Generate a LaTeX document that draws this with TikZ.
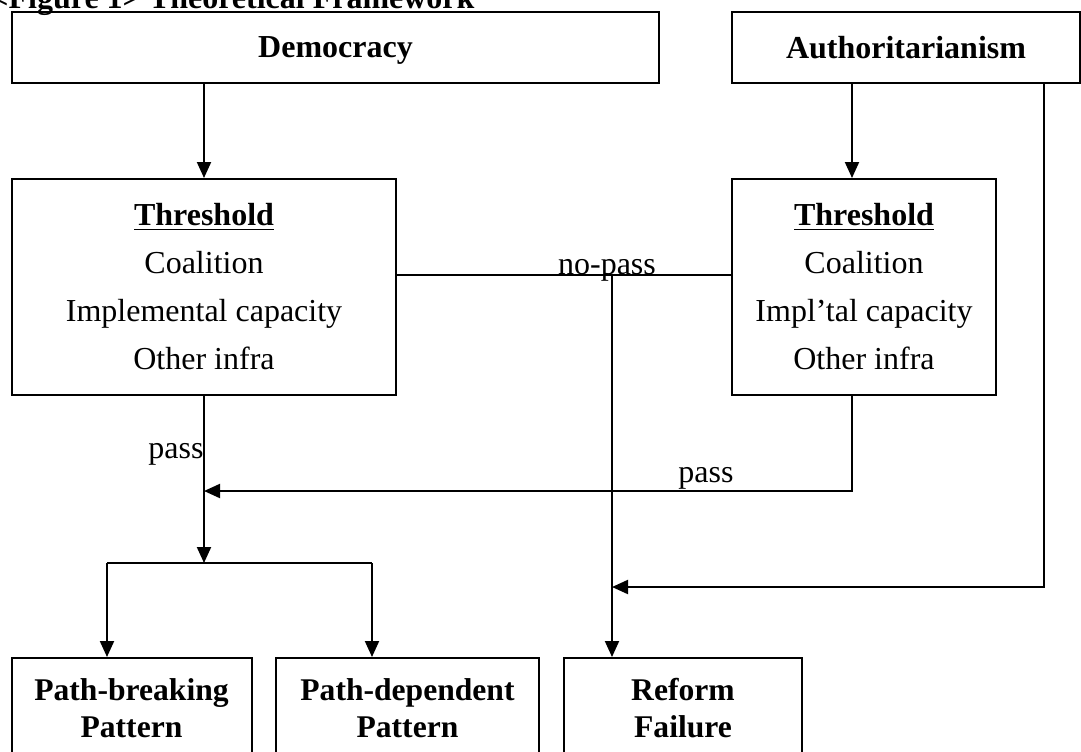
\documentclass[tikz,border=0pt]{standalone}
\usepackage{fontspec}
\setmainfont{Liberation Serif}
\usetikzlibrary{arrows.meta}
\begin{document}
\begin{tikzpicture}[x=0.5pt,y=-0.5pt,
  box/.style={draw, line width=1pt, inner sep=0pt, align=center},
  topbox/.style={box, font=\fontsize{16pt}{19pt}\selectfont\bfseries, text depth=0pt},
  thbox/.style={box, font=\fontsize{16pt}{24pt}\selectfont},
  botbox/.style={box, font=\fontsize{15.8pt}{18.5pt}\selectfont\bfseries},
  lbl/.style={inner sep=0pt, anchor=base, font=\fontsize{16pt}{19pt}\selectfont},
  conn/.style={line width=1pt},
  arr/.style={conn, -{Triangle[length=8pt,width=7pt]}},
]
\useasboundingbox (0,0) rectangle (1081,751);
\node[anchor=base west, inner sep=0pt, font=\fontsize{16pt}{19pt}\selectfont\bfseries] (title) at (-10,8) {<Figure 1> Theoretical Framework};

\node[topbox, minimum width=323.5pt, minimum height=35.5pt] (dem) at (335.5,47) {Democracy};
\node[topbox, minimum width=174pt, minimum height=35.5pt] (aut) at (906,47) {Authoritarianism};

\node[thbox, minimum width=192pt, minimum height=108pt] (thl) at (204,287) {\underline{\textbf{Threshold}}\\Coalition\\Implemental capacity\\Other infra};
\node[thbox, minimum width=132pt, minimum height=108pt] (thr) at (864,287) {\underline{\textbf{Threshold}}\\Coalition\\Impl’tal capacity\\Other infra};

\node[botbox, minimum width=120pt, minimum height=50.5pt] (pb) at (131.5,708.5) {Path-breaking\\Pattern};
\node[botbox, minimum width=131.5pt, minimum height=50.5pt] (pd) at (407.5,708.5) {Path-dependent\\Pattern};
\node[botbox, minimum width=119pt, minimum height=50.5pt] (rf) at (683,708.5) {Reform\\Failure};

\coordinate (ax) at (852,0);
\coordinate (aux) at (1044,0);
\coordinate (np) at (612,275);
\coordinate (pj) at (204,491);
\coordinate (sp) at (204,563);
\coordinate (sl) at (107,563);
\coordinate (sr) at (372,563);
\coordinate (fj) at (612,587);

\draw[arr] (dem.south -| thl.north) -- (thl.north);
\draw[arr] (ax |- aut.south) -- (ax |- thr.north);
\draw[conn] (thl.east |- np) -- (thr.west |- np);
\draw[arr] (np) -- (np |- rf.north);
\draw[arr] (thl.south) -- (sp);
\draw[arr] (ax |- thr.south) -- (ax |- pj) -- (pj);
\draw[arr] (aux |- aut.south) -- (aux |- fj) -- (fj);
\draw[conn] (sl) -- (sr);
\draw[arr] (sl) -- (sl |- pb.north);
\draw[arr] (sr) -- (sr |- pd.north);

\node[lbl] (nplbl) at (607,274) {no-pass};
\node[lbl, anchor=base east] (passl) at (204,458) {pass};
\node[lbl] (passr) at (706,482) {pass};
\end{tikzpicture}
\end{document}
